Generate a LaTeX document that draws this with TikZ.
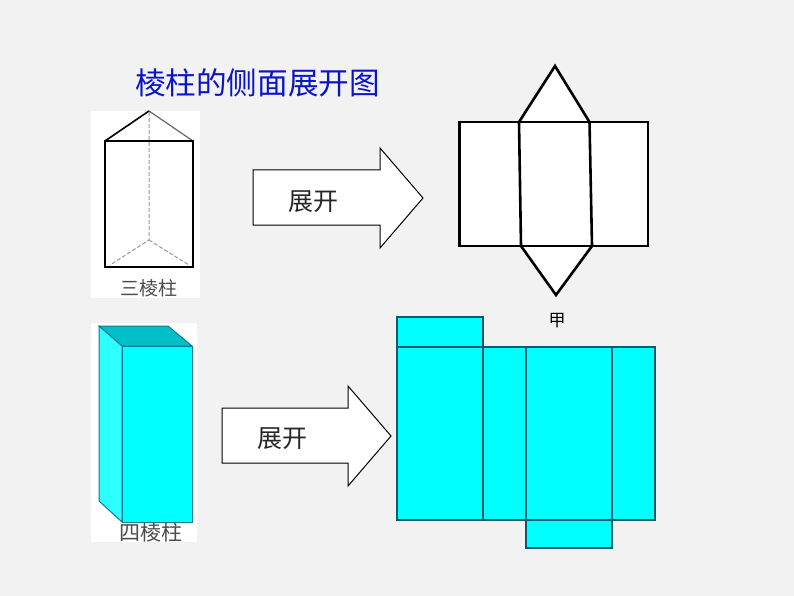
\documentclass[tikz,border=0pt]{standalone}
\usepackage{fontspec}
\setmainfont{Noto Sans CJK SC}
\begin{document}
\begin{tikzpicture}[x=1pt,y=-1pt,
  thick line/.style={draw=black,line width=2.6pt,line join=miter},
  panel/.style={fill=white,draw=none},
  blockarrow/.style={draw=black,fill=white,line width=1pt},
  arrowtext/.style={font=\fontsize{25}{25}\selectfont,inner sep=0pt,text=black!85},
  caption/.style={inner sep=0pt,text=black!70}]
\definecolor{pagebg}{HTML}{F2F2F2}
\definecolor{aqua}{HTML}{00FFFF}
\definecolor{aquatop}{HTML}{00BFC6}
\definecolor{aqualeft}{HTML}{2EFFFF}
\definecolor{edgeteal}{HTML}{0A7C98}
\definecolor{netedge}{HTML}{0A5A6A}
\definecolor{titleblue}{HTML}{0A14C8}
\fill[pagebg] (0,0) rectangle (794,596);
\useasboundingbox (0,0) rectangle (794,596);

% title
\node[inner sep=0pt,text=titleblue,font=\fontsize{30.6}{31}\selectfont] (title) at (257.5,83) {棱柱的侧面展开图};

% triangular prism panel
\fill[panel] (91,111) rectangle (200,298);
\draw[gray!80,line width=1pt,dash pattern=on 4pt off 2pt] (149,112) -- (149,240) -- (110,265);
\draw[gray!80,line width=1pt,dash pattern=on 4pt off 2pt] (149,240) -- (189,265);
\draw[black!60,line width=1.2pt] (149,111) -- (193,141);
\draw[black,line width=1.6pt] (105,141) -- (149,111);
\draw[draw=black,line width=2pt] (105,141) rectangle (193,267);
\node[caption,font=\fontsize{19}{19}\selectfont] (cap3) at (149,288) {三棱柱};

% arrow 1
\draw[blockarrow] (253,170) -- (380,170) -- (380,148) -- (423,198) -- (380,248) -- (380,225) -- (253,225) -- cycle;
\node[arrowtext] (open1) at (313,202) {展开};

% triangular net
\fill[white] (459.5,122) rectangle (648,246);
\fill[white] (519,122) -- (555,66) -- (589.5,122) -- cycle;
\fill[white] (521,246) -- (556,295) -- (592,246) -- cycle;
\draw[thick line] (459.5,122) rectangle (648,246);
\draw[thick line] (519,122) -- (521,246);
\draw[thick line] (589.5,122) -- (592,246);
\draw[thick line] (519,122) -- (555,66) -- (589.5,122);
\draw[thick line] (521,246) -- (556,295) -- (592,246);
\node[inner sep=0pt,font=\fontsize{17}{17}\selectfont,text=black] (jia) at (557,321) {甲};

% square prism panel
\fill[panel] (91,323) rectangle (197,542);
\filldraw[fill=aquatop,draw=edgeteal,line width=1pt] (99,326) -- (168,326) -- (192,346) -- (122,346) -- cycle;
\filldraw[fill=aqualeft,draw=edgeteal,line width=1pt] (99,326) -- (122,346) -- (122,522) -- (99,501) -- cycle;
\filldraw[fill=aqua,draw=edgeteal,line width=1pt] (122,346) rectangle (192,522);
\node[caption,font=\fontsize{21}{21}\selectfont] (cap4) at (151,533) {四棱柱};

% arrow 2
\draw[blockarrow] (222,408) -- (348,408) -- (348,386) -- (391,436) -- (348,486) -- (348,463) -- (222,463) -- cycle;
\node[arrowtext] (open2) at (282,439) {展开};

% square net
\filldraw[fill=aqua,draw=netedge,line width=1.2pt] (397,317) rectangle (483,347);
\filldraw[fill=aqua,draw=netedge,line width=1.2pt] (526,520) rectangle (612,548);
\filldraw[fill=aqua,draw=netedge,line width=1.2pt] (397,347) rectangle (655,520);
\draw[netedge,line width=1.2pt] (483,347) -- (483,520);
\draw[netedge,line width=1.2pt] (526,347) -- (526,520);
\draw[netedge,line width=1.2pt] (612,347) -- (612,520);
\end{tikzpicture}
\end{document}
